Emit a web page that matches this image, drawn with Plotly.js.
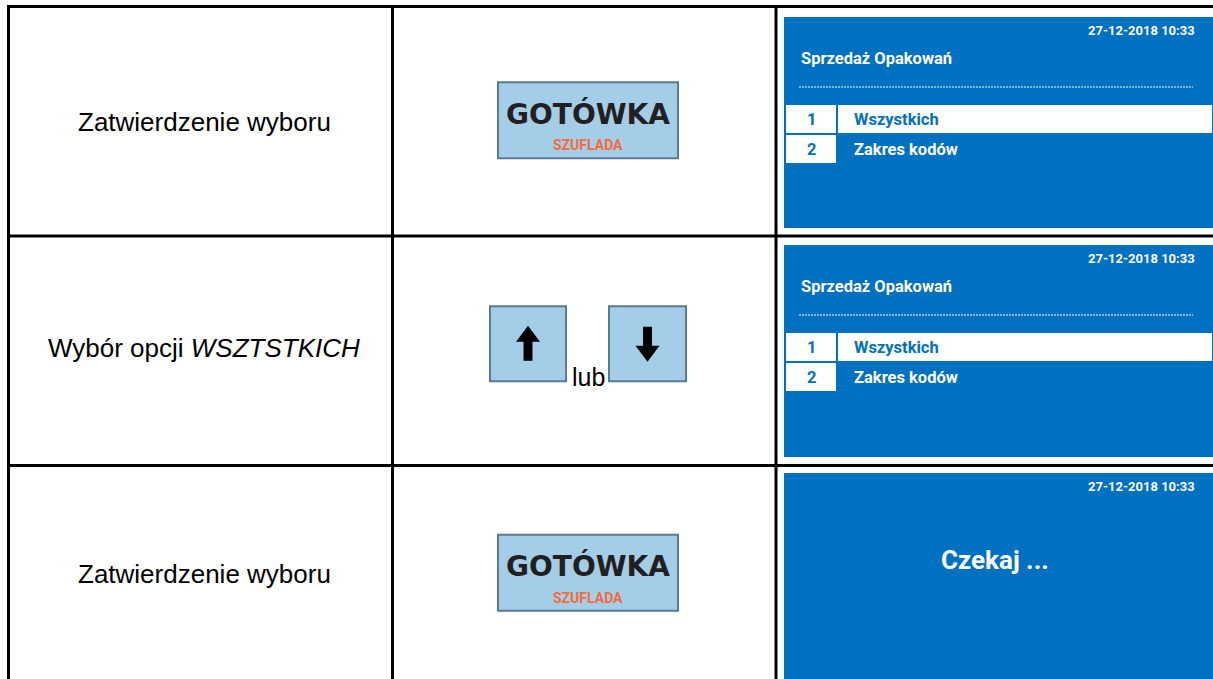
<!DOCTYPE html>
<html>
<head>
<meta charset="utf-8">
<script src="https://cdn.plot.ly/plotly-3.0.1.min.js"></script>
<style>
  html, body { margin: 0; padding: 0; background: #ffffff; }
  #chart { width: 1213px; height: 679px; }
</style>
</head>
<body>
<div id="chart"></div>
<script>
// ---------- content (data) ----------
const rowLabels   = ["Zatwierdzenie wyboru", "Wybór opcji <i>WSZTSTKICH</i>", "Zatwierdzenie wyboru"];
const keyTypes    = ["cash", "arrows", "cash"];
const screenTypes = ["menu", "menu", "wait"];
const cashKeyMain = "GOTÓWKA";
const cashKeySub  = "SZUFLADA";
const orLabel     = "lub";
const dateText    = "27-12-2018 10:33";
const menuTitle   = "Sprzedaż Opakowań";
const menuNumbers = ["1", "2"];
const menuItems   = ["Wszystkich", "Zakres kodów"];
const selectedIdx = 0;
const waitText    = "Czekaj ...";

// ---------- geometry / style ----------
const W = 1213, H = 679;
const rowTops    = [6.5, 236, 465.5];
const rowBottoms = [236, 465.5, 682];
const colLines   = [8.5, 392.5, 776];
const screenTops = [17, 245, 473];
const screenBottoms = [228, 457, 690];
const screenLeft = 784;
const BLUE = "#0070C0";
const KEY_FILL = "#A4CEE8";
const KEY_LINE = "#5A7A93";
const NARROW = "Roboto, Liberation Sans Narrow, DejaVu Sans Condensed, sans-serif";
const ARIAL = "Liberation Sans, Arial, sans-serif";
const KEYFONT = "DejaVu Sans, Verdana, sans-serif";

const shapes = [];
const annotations = [];

function rect(x0, y0, x1, y1, fill, lineColor, lineWidth) {
  shapes.push({type: "rect", xref: "x", yref: "y", x0, y0, x1, y1,
    fillcolor: fill, line: {color: lineColor || fill, width: lineWidth || 0}, layer: "above"});
}
function line(x0, y0, x1, y1, color, width, dash) {
  shapes.push({type: "line", xref: "x", yref: "y", x0, y0, x1, y1,
    line: {color, width, dash: dash || "solid"}, layer: "above"});
}
function text(t, x, y, size, color, family, xanchor, yanchor) {
  annotations.push({text: t, x, y, xref: "x", yref: "y", showarrow: false,
    xanchor: xanchor || "center", yanchor: yanchor || "middle",
    font: {size, color, family}});
}
function arrow(cx, cy, dir) {
  // dir = -1 up, +1 down
  const tip = cy + dir * 18, base = cy + dir * 2, tail = cy - dir * 17;
  const hw = 12, sw = 4.5;
  const p = `M ${cx} ${tip} L ${cx - hw} ${base} L ${cx - sw} ${base} L ${cx - sw} ${tail} ` +
            `L ${cx + sw} ${tail} L ${cx + sw} ${base} L ${cx + hw} ${base} Z`;
  shapes.push({type: "path", xref: "x", yref: "y", path: p, fillcolor: "#000000",
    line: {color: "#000000", width: 0}, layer: "above"});
}

// screens (drawn first)
screenTypes.forEach((type, i) => {
  const S = screenTops[i];
  rect(screenLeft, S, W + 5, screenBottoms[i], BLUE);
  text("<b>" + dateText + "</b>", 1197, S + 13.5, 13, "#ffffff", NARROW, "right");
  if (type === "menu") {
    text("<b>" + menuTitle + "</b>", 799, S + 41.5, 16.5, "#ffffff", NARROW, "left");
    line(799, S + 70, 1193, S + 70, "#ffffff", 1, "2px,1px");
    menuItems.forEach((item, k) => {
      const y0 = S + 88 + k * 30, y1 = y0 + 28;
      rect(786, y0, 836, y1, "#ffffff");
      const sel = k === selectedIdx;
      if (sel) rect(838, y0, 1212, y1, "#ffffff");
      text("<b>" + menuNumbers[k] + "</b>", 811, y0 + 14, 16.5, BLUE, NARROW);
      text("<b>" + item + "</b>", 852, y0 + 14, 16.5, sel ? BLUE : "#ffffff", NARROW, "left");
    });
  } else {
    text("<b>" + waitText + "</b>", 995, S + 87, 26, "#ffffff", NARROW);
  }
});

// left labels + keys
rowLabels.forEach((lab, i) => {
  const cy = (rowTops[i] + rowBottoms[i]) / 2;
  text(lab, 204, cy + 0.5 - (i === 1 ? 3 : 0), 26, "#000000", ARIAL);
  if (keyTypes[i] === "cash") {
    const kc = cy - 1;
    rect(498, kc - 38, 678, kc + 38, KEY_FILL, KEY_LINE, 2);
    text("<b>" + cashKeyMain + "</b>", 588, kc - 6.5, 28, "#231F20", KEYFONT);
    text("<b>" + cashKeySub + "</b>", 588, kc + 25, 14, "#F26B3A", NARROW);
  } else {
    const kc = cy - 7;
    rect(490, kc - 37.5, 566, kc + 37.5, KEY_FILL, KEY_LINE, 2);
    rect(609, kc - 37.5, 686, kc + 37.5, KEY_FILL, KEY_LINE, 2);
    arrow(528, kc, -1);
    arrow(647.5, kc, 1);
    text(orLabel, 588.5, kc + 33, 25, "#000000", ARIAL);
  }
});

// table grid
line(7, rowTops[0], W + 5, rowTops[0], "#000000", 3);
line(7, rowTops[1], W + 5, rowTops[1], "#000000", 3);
line(7, rowTops[2], W + 5, rowTops[2], "#000000", 3);
colLines.forEach(x => line(x, 5, x, H + 5, "#000000", 3));

const layout = {
  width: W, height: H,
  margin: {l: 0, r: 0, t: 0, b: 0, pad: 0},
  paper_bgcolor: "#ffffff", plot_bgcolor: "#ffffff",
  xaxis: {range: [0, W], visible: false, fixedrange: true},
  yaxis: {range: [H, 0], visible: false, fixedrange: true},
  showlegend: false,
  shapes, annotations
};
Plotly.newPlot("chart", [{x: [], y: [], type: "scatter", mode: "markers", hoverinfo: "skip"}],
  layout, {staticPlot: true, displayModeBar: false});
</script>
</body>
</html>
